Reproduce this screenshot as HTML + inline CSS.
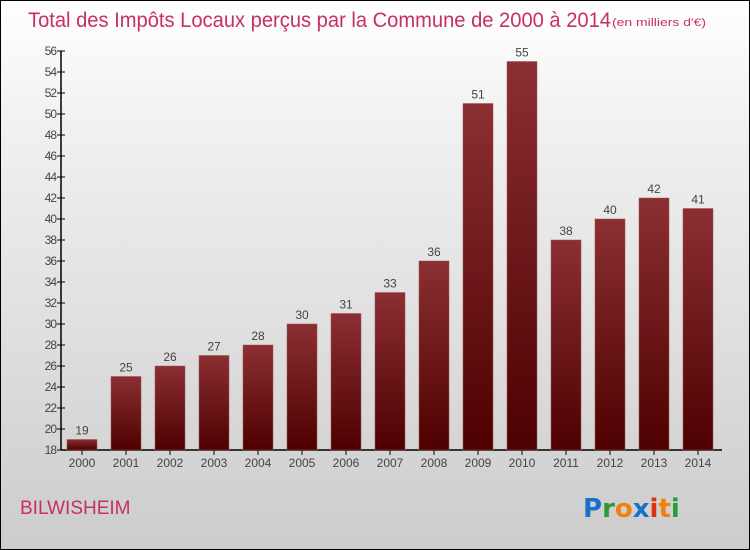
<!DOCTYPE html>
<html><head><meta charset="utf-8"><style>
body{margin:0;}
#c{position:relative;width:748px;height:548px;border:1px solid #000;background:linear-gradient(#fff,#f2f2f2 20%,#cccccc);font-family:"Liberation Sans",sans-serif;overflow:hidden}
</style></head><body>
<div id="c">
<svg id="s" width="748" height="548">
<defs><linearGradient id="g" x1="0" y1="0" x2="0" y2="1"><stop offset="0" stop-color="#8b2f33"/><stop offset="1" stop-color="#4e0000"/></linearGradient></defs>
<text x="27" y="26" font-size="21" fill="#c8305e" textLength="583" lengthAdjust="spacingAndGlyphs">Total des Impôts Locaux perçus par la Commune de 2000 à 2014</text>
<text x="611" y="25" font-size="11" fill="#c8305e" textLength="94" lengthAdjust="spacingAndGlyphs">(en milliers d'€)</text>
<text x="19" y="513" font-size="19" fill="#c8305e">BILWISHEIM</text>
<g font-size="26" font-weight="bold" font-family="'DejaVu Sans',sans-serif">
<text x="582" y="516"><tspan fill="#1a6fc9">P</tspan><tspan fill="#2a9a3a">r</tspan><tspan fill="#f08010">o</tspan><tspan fill="#1a6fc9">x</tspan><tspan fill="#e03010">i</tspan><tspan fill="#f08010">t</tspan><tspan fill="#2a9a3a">i</tspan></text></g>
<g id="plot"></g>
</svg></div>
<script>
const categories=["2000","2001","2002","2003","2004","2005","2006","2007","2008","2009","2010","2011","2012","2013","2014"];
const values=[19,25,26,27,28,30,31,33,36,51,55,38,40,42,41];
const yTicks=[18,20,22,24,26,28,30,32,34,36,38,40,42,44,46,48,50,52,54,56];
const ns="http://www.w3.org/2000/svg";
const g=document.getElementById('plot');
const y=v=>449-(v-18)*10.5;
const x=i=>81+44*i;
function el(t,a,p){const e=document.createElementNS(ns,t);for(const k in a)e.setAttribute(k,a[k]);(p||g).appendChild(e);return e;}
const ax=el('line',{x1:60,y1:y(56),x2:60,y2:449,stroke:'#000','stroke-width':1.5});


const bx=el('line',{x1:60,y1:449,x2:721,y2:449,stroke:'#000','stroke-width':1.5});


yTicks.forEach(v=>{
 el('line',{x1:56,x2:64,y1:y(v),y2:y(v),stroke:'#000'});
 const t=el('text',{x:55,y:y(v)+4,'text-anchor':'end','font-size':12,fill:'#444','letter-spacing':'-1'});
 t.textContent=v;
 
 
});
categories.forEach((c,i)=>{
 const r=el('rect',{x:x(i)-15,y:y(values[i]),width:30,height:449-y(values[i]),fill:'url(#g)',stroke:'#a05055','stroke-width':0.5});
 
 
 const vl=el('text',{x:x(i),y:y(values[i])-5,'text-anchor':'middle','font-size':12,fill:'#444'});
 vl.textContent=values[i];
 
 
 el('line',{x1:x(i),x2:x(i),y1:449,y2:454,stroke:'#000'});
 const t=el('text',{x:x(i),y:466,'text-anchor':'middle','font-size':12,fill:'#444'});
 t.textContent=c;
 
 
});
</script>
</body></html>
